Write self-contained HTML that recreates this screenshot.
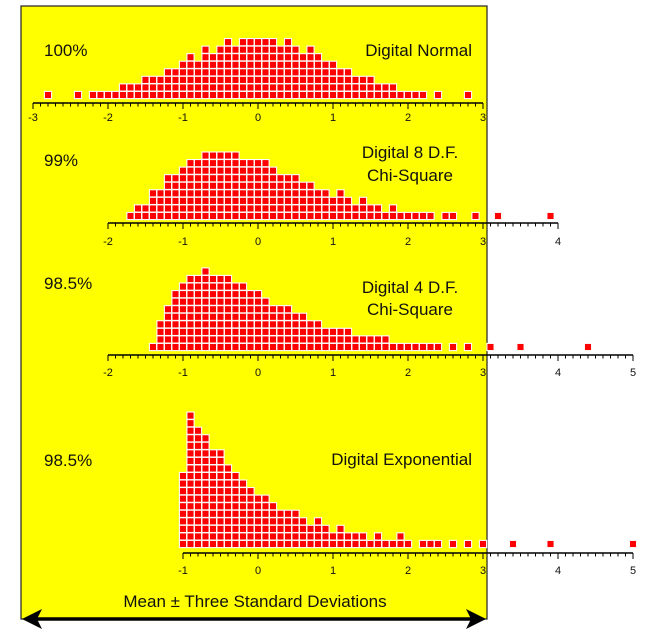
<!DOCTYPE html>
<html><head><meta charset="utf-8"><style>
html,body{margin:0;padding:0;background:#fff;}
svg{display:block;font-family:"Liberation Sans",Arial,sans-serif;}
</style></head><body>
<svg id="s" width="656" height="629" viewBox="0 0 656 629" xmlns="http://www.w3.org/2000/svg">
<rect x="21" y="6" width="466" height="613" fill="#ffff00" stroke="#222" stroke-width="1.2"/>
<g id="dots"></g>
<g id="axes" stroke="#000" fill="none"></g>
<g font-size="17" fill="#111">
<text x="44" y="56">100%</text>
<text x="472" y="56" text-anchor="end">Digital Normal</text>
<text x="44" y="166">99%</text>
<text x="410" y="158" text-anchor="middle">Digital 8 D.F.</text>
<text x="410" y="181" text-anchor="middle">Chi-Square</text>
<text x="44" y="289">98.5%</text>
<text x="410" y="293" text-anchor="middle">Digital 4 D.F.</text>
<text x="410" y="315" text-anchor="middle">Chi-Square</text>
<text x="44" y="466">98.5%</text>
<text x="472" y="465" text-anchor="end">Digital Exponential</text>
<text x="255" y="607" text-anchor="middle">Mean ± Three Standard Deviations</text>
</g>
<g font-size="11" fill="#111" text-anchor="middle">
<text x="33" y="121">-3</text><text x="108" y="121">-2</text><text x="183" y="121">-1</text><text x="258" y="121">0</text><text x="333" y="121">1</text><text x="408" y="121">2</text><text x="483" y="121">3</text>
<text x="108" y="245">-2</text><text x="183" y="245">-1</text><text x="258" y="245">0</text><text x="333" y="245">1</text><text x="408" y="245">2</text><text x="483" y="245">3</text><text x="558" y="245">4</text>
<text x="108" y="376">-2</text><text x="183" y="376">-1</text><text x="258" y="376">0</text><text x="333" y="376">1</text><text x="408" y="376">2</text><text x="483" y="376">3</text><text x="558" y="376">4</text><text x="633" y="376">5</text>
<text x="183" y="574">-1</text><text x="258" y="574">0</text><text x="333" y="574">1</text><text x="408" y="574">2</text><text x="483" y="574">3</text><text x="558" y="574">4</text><text x="633" y="574">5</text>
</g>
<line x1="34" y1="619" x2="474" y2="619" stroke="#000" stroke-width="3.5"/>
<polygon points="22,619 42,609 37,619 42,629" fill="#000"/>
<polygon points="486,619 466,609 471,619 466,629" fill="#000"/>
</svg>
<script>
(function(){
var NS="http://www.w3.org/2000/svg";
var dots=document.getElementById("dots"),axes=document.getElementById("axes");
function X(v){return 258+7.5*v;}
function panel(base,h){
  for(var k in h){var n=h[k],v=+k;
    for(var i=0;i<n;i++){var r=document.createElementNS(NS,"rect");
      r.setAttribute("x",X(v)-3.6);r.setAttribute("y",base-7.55*i-3.6);
      r.setAttribute("width",7.2);r.setAttribute("height",7.2);
      r.setAttribute("fill","#ff0000");r.setAttribute("stroke","#fff");r.setAttribute("stroke-width","1.1");
      dots.appendChild(r);}
  }
}
function axis(y,a,b){
  var l=document.createElementNS(NS,"line");
  l.setAttribute("x1",X(a*10));l.setAttribute("x2",X(b*10));l.setAttribute("y1",y);l.setAttribute("y2",y);
  l.setAttribute("stroke-width","1.5");axes.appendChild(l);
  for(var t=a*10;t<=b*10;t++){var m=document.createElementNS(NS,"line");
    m.setAttribute("x1",X(t));m.setAttribute("x2",X(t));m.setAttribute("y1",y);
    m.setAttribute("y2",y+(t%10==0?6:3.5));m.setAttribute("stroke-width","1");axes.appendChild(m);}
}
function H(list){var o={};list.forEach(function(p){var a=p[0],b=p[1],n=p[2];for(var v=a;v<=b;v++)o[v]=n;});return o;}
panel(95,H([[-28,-28,1],[-24,-24,1],[-22,-19,1],[-18,-16,2],[-15,-13,3],[-12,-11,4],[-10,-10,5],[-9,-9,6],[-8,-8,5],[-7,-7,7],[-6,-6,6],[-5,-5,7],[-4,-4,8],[-3,-3,7],[-2,2,8],[3,3,7],[4,4,8],[5,5,7],[6,6,6],[7,7,7],[8,8,6],[9,10,5],[11,12,4],[13,15,3],[16,18,2],[19,22,1],[24,24,1],[28,28,1]]));
panel(216,H([[-17,-17,1],[-16,-15,2],[-14,-13,4],[-12,-11,6],[-10,-10,7],[-9,-8,8],[-7,-3,9],[-2,1,8],[2,2,7],[3,5,6],[6,7,5],[8,9,4],[10,10,3],[11,11,4],[12,12,3],[13,13,2],[14,14,3],[15,16,2],[17,17,1],[18,18,2],[19,23,1],[25,26,1],[29,29,1],[32,32,1],[39,39,1]]));
panel(347,H([[-14,-14,1],[-13,-13,4],[-12,-12,6],[-11,-11,8],[-10,-10,9],[-9,-8,10],[-7,-7,11],[-6,-4,10],[-3,-2,9],[-1,0,8],[1,1,7],[2,4,6],[5,6,5],[7,8,4],[9,12,3],[13,17,2],[18,24,1],[26,26,1],[28,28,1],[31,31,1],[35,35,1],[44,44,1]]));
panel(544,H([[-10,-10,10],[-9,-9,18],[-8,-8,16],[-7,-7,15],[-6,-5,13],[-4,-4,11],[-3,-3,10],[-2,-2,9],[-1,-1,8],[0,1,7],[2,2,6],[3,5,5],[6,6,4],[7,7,3],[8,8,4],[9,9,3],[10,10,2],[11,11,3],[12,14,2],[15,15,1],[16,16,2],[17,18,1],[19,19,2],[20,20,1],[22,24,1],[26,26,1],[28,28,1],[30,30,1],[34,34,1],[39,39,1],[50,50,1]]));
axis(103,-3,3);axis(223,-2,4);axis(355,-2,5);axis(553,-1,5);
})();
</script>
</body></html>
